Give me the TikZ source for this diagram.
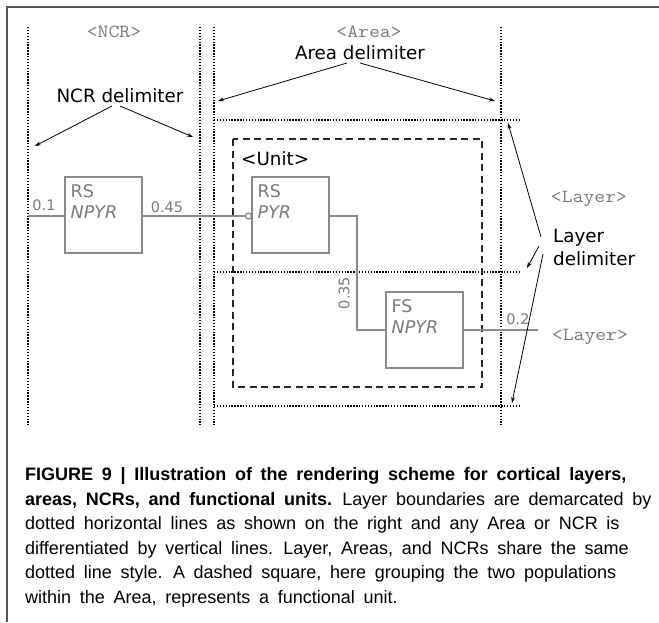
\documentclass[tikz,border=0pt]{standalone}
\usepackage{fontspec}
\setmainfont{DejaVu Sans}
\newfontfamily\monofont[FakeStretch=1.14]{Latin Modern Mono}
\newfontfamily\capfont{Liberation Sans}
\newcommand\capsetup{\capfont\fontsize{18}{20}\selectfont\spaceskip 8.7pt\relax}
\usetikzlibrary{arrows.meta,calc}
\definecolor{popgray}{HTML}{8A8A8A}
\definecolor{labgray}{HTML}{7A7A7A}
\definecolor{framegray}{HTML}{555555}
\tikzset{
  frameline/.style={draw=framegray,line width=1.3pt},
  delim/.style={draw=black,line width=1.4pt,dash pattern=on 1.4pt off 1.5pt},
  unitbox/.style={draw=black!85,line width=1.8pt,dash pattern=on 7pt off 4.5pt},
  popbox/.style={draw=popgray,line width=2pt,minimum width=77pt,minimum height=76pt,inner sep=0pt},
  poptext/.style={text=labgray,inner sep=0pt,align=left,font=\fontsize{17.5}{21}\selectfont},
  conn/.style={draw=popgray,line width=2pt},
  wlabel/.style={text=labgray,inner sep=0pt,font=\fontsize{14.5}{17}\selectfont},
  tag/.style={text=labgray,inner sep=0pt,font=\monofont\fontsize{18.5}{20}\selectfont},
  blab/.style={text=black,inner sep=0pt,font=\fontsize{18.3}{23}\selectfont},
  pointer/.style={draw=black,line width=0.8pt,-{Stealth[length=6pt,width=4pt]}},
  capline/.style={anchor=base west,inner sep=0pt,font=\capsetup}
}
\begin{document}
\begin{tikzpicture}[x=1pt,y=-1pt]
\useasboundingbox (0,0) rectangle (659,622);
% frame
\draw[frameline] (7,622) -- (7,7) -- (659,7);
% NCR and Area delimiters (vertical)
\draw[delim] (28,27) -- (28,425);
\draw[delim] (200,27) -- (200,425);
\draw[delim] (214,27) -- (214,425);
\draw[delim] (501,27) -- (501,425);
% Layer delimiters (horizontal)
\draw[delim] (214,120) -- (520,120);
\draw[delim] (214,272) -- (520,272);
\draw[delim] (214,406) -- (520,406);
% functional unit
\draw[unitbox] (233,139) rectangle (482,387);
% populations
\node[popbox] (rs1) at (103.5,215) {};
\node[popbox] (rs2) at (290.5,215) {};
\node[popbox] (fs)  at (424.5,330) {};
\node[poptext,anchor=north west] (rs1t) at ($(rs1.north west)+(6.5,8)$) {RS\\\textit{NPYR}};
\node[poptext,anchor=north west] (rs2t) at ($(rs2.north west)+(6.5,8)$) {RS\\\textit{PYR}};
\node[poptext,anchor=north west] (fst) at ($(fs.north west)+(6.5,8)$) {FS\\\textit{NPYR}};
% connectors
\coordinate (in1) at (28,216);
\coordinate (out1) at (538,330);
\coordinate (bend1) at (357,216);
\coordinate (bend2) at (357,330);
\draw[conn] (in1) -- (rs1.west |- in1);
\node[draw=popgray,line width=1.3pt,circle,minimum size=6pt,inner sep=0pt,fill=white] (syn) at (248.5,216) {};
\draw[conn] (rs1.east |- in1) -- (syn.west);
\draw[conn] (rs2.east |- bend1) -- (bend1) -- (bend2) -- (fs.west);
\draw[conn] (fs.east) -- (out1);
\node[wlabel] (w1) at (44,205) {0.1};
\node[wlabel] (w2) at (167,207) {0.45};
\node[wlabel,rotate=90] (w3) at (344,293) {0.35};
\node[wlabel] (w4) at (518,319) {0.2};
% tags
\node[tag] (ncrtag) at (114,32) {<NCR>};
\node[tag] (areatag) at (369,32) {<Area>};
\node[tag] (laytag1) at (589,199) {<Layer>};
\node[tag] (laytag2) at (590,337) {<Layer>};
\node[blab,anchor=west] (unittag) at (241,159) {<Unit>};
% delimiter labels
\node[blab] (ncrdel) at (120,96) {NCR delimiter};
\node[blab] (areadel) at (360,53) {Area delimiter};
\node[blab,align=left,anchor=north west,font=\fontsize{18.3}{23}\selectfont] (laydel) at (553,229) {Layer\\delimiter};
% pointers
\coordinate (n1s) at (112,106); \coordinate (n1e) at (35,146);
\coordinate (n2s) at (120,106); \coordinate (n2e) at (193,137);
\coordinate (a1s) at (347,63);  \coordinate (a1e) at (218,101);
\coordinate (a2s) at (360,63);  \coordinate (a2e) at (495,101);
\coordinate (l1s) at (541,237); \coordinate (l1e) at (508,123);
\coordinate (l2s) at (539,246); \coordinate (l2e) at (527,268);
\coordinate (l3s) at (543,254); \coordinate (l3e) at (512,403);
\draw[pointer] (n1s) -- (n1e);
\draw[pointer] (n2s) -- (n2e);
\draw[pointer] (a1s) -- (a1e);
\draw[pointer] (a2s) -- (a2e);
\draw[pointer] (l1s) -- (l1e);
\draw[pointer] (l2s) -- (l2e);
\draw[pointer] (l3s) -- (l3e);
% caption
\node[capline] (c1) at (25,480) {\bfseries FIGURE 9 | Illustration of the rendering scheme for cortical layers,};
\node[capline] (c2) at (25,505) {\textbf{areas, NCRs, and functional units.} Layer boundaries are demarcated by};
\node[capline] (c3) at (25,529) {dotted horizontal lines as shown on the right and any Area or NCR is};
\node[capline] (c4) at (25,554) {differentiated by vertical lines. Layer, Areas, and NCRs share the same};
\node[capline] (c5) at (25,578.5) {dotted line style. A dashed square, here grouping the two populations};
\node[capline] (c6) at (25,603) {within the Area, represents a functional unit.};
\end{tikzpicture}
\end{document}
